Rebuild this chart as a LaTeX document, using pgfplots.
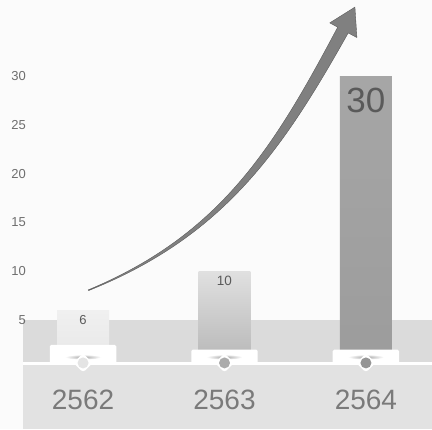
\documentclass[border=0pt]{standalone}
\usepackage{fontspec}
\setmainfont{Liberation Sans}
\usepackage{pgfplots}
\pgfplotsset{compat=1.18}
\definecolor{bg}{HTML}{FBFBFB}
\definecolor{bandA}{HTML}{DBDBDB}
\definecolor{bandB}{HTML}{E2E2E2}
\definecolor{tickgray}{HTML}{6E6E6E}
\definecolor{yeargray}{HTML}{7A7A7A}
\definecolor{labgray}{HTML}{5A5A5A}
\definecolor{barAtop}{HTML}{F0F0F0}
\definecolor{barAbot}{HTML}{E6E6E6}
\definecolor{barBtop}{HTML}{E0E0E0}
\definecolor{barBbot}{HTML}{B4B4B4}
\definecolor{barCtop}{HTML}{A6A6A6}
\definecolor{barCbot}{HTML}{9C9C9C}
\definecolor{dotA}{HTML}{E4E4E4}
\definecolor{dotB}{HTML}{ABABAB}
\definecolor{dotC}{HTML}{959595}
\definecolor{arrowgray}{HTML}{808080}
\definecolor{arrowdark}{HTML}{555555}
\begin{document}
\begin{tikzpicture}
\begin{axis}[name=ax, axis on top, scale only axis, width=432pt, height=429pt,
  xmin=-0.5866, xmax=2.4664, ymin=-6.168, ymax=37.787,
  axis line style={draw=none}, major tick length=0pt,
  xtick={0,1,2}, xticklabels={2562,2563,2564},
  ytick={5,10,15,20,25,30},
  /pgf/number format/assume math mode=true,
  xticklabel style={anchor=center, yshift=29pt, font=\fontsize{28}{30}\selectfont, text=yeargray},
  yticklabel style={anchor=east, inner sep=0pt, xshift=26pt, font=\fontsize{13}{15}\selectfont, text=tickgray},
  bar width=0.3675,
]
\fill[bg] (rel axis cs:0,0) rectangle (rel axis cs:1,1);
\fill[bandA] (axis cs:-0.424,0.697) rectangle (axis cs:2.4664,5);

\addplot[ybar, bar shift=0pt, draw=none, top color=barAtop, bottom color=barAbot,
  nodes near coords, nodes near coords style={anchor=center, yshift=-10pt, font=\fontsize{13}{15}\selectfont, text=labgray}]
  coordinates {(0,6)};
\addplot[ybar, bar shift=0pt, draw=none, top color=barBtop, bottom color=barBbot,
  nodes near coords, nodes near coords style={anchor=center, yshift=-10pt, font=\fontsize{13.5}{15}\selectfont, text=labgray}]
  coordinates {(1,10)};
\addplot[ybar, bar shift=0pt, draw=none, top color=barCtop, bottom color=barCbot,
  nodes near coords, nodes near coords style={anchor=center, yshift=-24pt, font=\fontsize{35}{38}\selectfont, text=labgray}]
  coordinates {(2,30)};

\fill[white] (axis cs:-0.424,0.389) rectangle (axis cs:2.4664,0.697);
\fill[white, rounded corners=1.5pt] (axis cs:-0.235,0.45) rectangle (axis cs:0.235,2.45);
\fill[white, rounded corners=1.5pt] (axis cs:0.765,0.45) rectangle (axis cs:1.235,1.95);
\fill[white, rounded corners=1.5pt] (axis cs:1.765,0.45) rectangle (axis cs:2.235,1.95);
\fill[bandB] (axis cs:-0.424,-6.168) rectangle (axis cs:2.4664,0.389);

\shade[inner color=black!35, outer color=white] (axis cs:0,1.2) ellipse [x radius=18pt, y radius=2.5pt];
\shade[inner color=black!35, outer color=white] (axis cs:1,1.2) ellipse [x radius=18pt, y radius=2.5pt];
\shade[inner color=black!35, outer color=white] (axis cs:2,1.2) ellipse [x radius=18pt, y radius=2.5pt];

\node[fill=white, rotate=45, minimum size=13.5pt, inner sep=0pt, rounded corners=3pt] at (axis cs:0,0.594) {};
\node[fill=white, rotate=45, minimum size=13.5pt, inner sep=0pt, rounded corners=3pt] at (axis cs:1,0.594) {};
\node[fill=white, rotate=45, minimum size=13.5pt, inner sep=0pt, rounded corners=3pt] at (axis cs:2,0.594) {};
\fill[dotA] (axis cs:0,0.594) circle [radius=5.5pt];
\fill[dotB] (axis cs:1,0.594) circle [radius=5.5pt];
\fill[dotC] (axis cs:2,0.594) circle [radius=5.5pt];
\end{axis}
\begin{scope}[shift={(ax.north west)}, x=1pt, y=-1pt]
\fill[arrowgray, draw=arrowdark, line width=0.35pt, line join=round]
  (88,290) .. controls (221.5,234.4) and (274.6,146) .. (337.73,27.13)
  -- (329.8,22.8) -- (355,7) -- (357,37.5) -- (348.27,32.87)
  .. controls (282,151) and (223.3,236.8) .. (88.6,290.6)
  -- cycle;
\end{scope}
\end{tikzpicture}
\end{document}
